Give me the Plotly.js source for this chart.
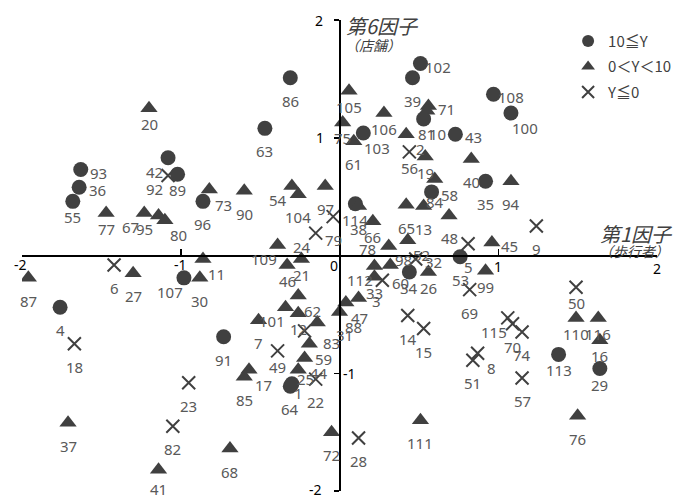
<!DOCTYPE html>
<html><head><meta charset="utf-8">
<script src="https://cdn.plot.ly/plotly-3.0.1.min.js"></script>
<style>html,body{margin:0;padding:0;background:#fff}</style>
</head><body><div id="chart" style="width:686px;height:497px"></div>
<script>
// ---- data: 10≦Y (circles) ----
const circleIds = [86,63,102,39,108,100,43,10,103,35,58,114,34,53,93,36,55,42,89,96,107,4,91,64,1,113,29];
const circleX = [-0.31,-0.47,0.51,0.46,0.97,1.08,0.73,0.53,0.15,0.92,0.58,0.10,0.44,0.76,-1.63,-1.64,-1.68,-1.08,-1.02,-0.86,-0.98,-1.76,-0.73,-0.31,-0.30,1.38,1.64];
const circleY = [1.51,1.08,1.63,1.51,1.37,1.21,1.03,1.16,1.04,0.63,0.54,0.44,-0.14,-0.01,0.73,0.58,0.46,0.83,0.69,0.46,-0.19,-0.44,-0.69,-1.11,-1.09,-0.84,-0.96];
const circleLabelPos = ['b','b','r','b','r','br','r','br','br','b','r','bs','bs','b','r','r','bs','bl','bs','b','bl','b','b','b','brs','bs','bs'];

// ---- data: 0<Y<10 (triangles) ----
const triIds = [20,77,67,95,80,73,90,54,104,97,38,66,105,75,61,106,2,71,81,19,84,65,13,48,40,94,45,99,78,52,98,112,33,26,109,21,46,87,27,11,30,37,41,68,72,111,76,110,116,16,7,101,62,12,31,88,47,3,59,44,25,17,85];
const triX = [-1.20,-1.47,-1.23,-1.14,-1.10,-0.82,-0.60,-0.30,-0.26,-0.09,0.12,0.21,0.06,0.02,0.09,0.28,0.42,0.56,0.55,0.54,0.60,0.42,0.53,0.69,0.83,1.08,0.96,0.92,0.31,0.43,0.32,0.22,0.22,0.56,-0.39,-0.24,-0.33,-1.96,-1.30,-0.86,-0.88,-1.71,-1.14,-0.69,-0.05,0.51,1.50,1.49,1.63,1.64,-0.51,-0.34,-0.26,-0.26,-0.14,0.00,0.04,0.12,-0.19,-0.22,-0.26,-0.57,-0.60];
const triY = [1.25,0.36,0.36,0.34,0.30,0.56,0.55,0.59,0.52,0.59,0.42,0.29,1.40,1.13,0.97,1.21,1.03,1.27,1.23,0.84,0.65,0.43,0.42,0.34,0.82,0.63,0.11,-0.13,0.08,0.13,-0.08,-0.09,-0.18,-0.14,0.09,-0.03,-0.08,-0.19,-0.15,-0.03,-0.19,-1.42,-1.82,-1.64,-1.50,-1.40,-1.36,-0.53,-0.53,-0.72,-0.55,-0.44,-0.34,-0.49,-0.57,-0.48,-0.40,-0.36,-0.75,-0.87,-0.97,-0.97,-1.03];
const triLabelPos = ['bs','bs','bl','bl','br','br','b','bl','b','b','b','bs','bs','bs','b','bs','br','r','b','bs','b','b','b','b','b','b','r','bs','l','br','tr','bl','bs','bs','bl','bs','bs','b','b','br','b','b','b2','b','b','b','b','bs','bs','bs','b','bl','br','bs','rr','br','br','r','br','br','brs','br','b'];

// ---- data: Y≦0 (crosses) ----
const crossIds = [92,6,18,23,82,49,83,22,28,24,79,56,32,60,5,9,69,50,14,15,115,70,74,8,51,57];
const crossX = [-1.08,-1.42,-1.67,-0.95,-1.05,-0.39,-0.22,-0.15,0.12,-0.15,-0.04,0.44,0.48,0.27,0.81,1.24,0.82,1.49,0.43,0.53,1.06,1.09,1.15,0.87,0.84,1.15];
const crossY = [0.68,-0.08,-0.75,-1.08,-1.45,-0.81,-0.64,-1.05,-1.55,0.19,0.33,0.88,-0.03,-0.21,0.10,0.25,-0.29,-0.27,-0.51,-0.62,-0.53,-0.58,-0.65,-0.83,-0.89,-1.04];
const crossLabelPos = ['bl','b','b','b','b','bs','rr','b','b','bl','b','bs','r','r','b','b','b','bs','b','b','bl','b','b','br','b','b'];

const seriesNames = ['10≦Y', '0＜Y＜10', 'Y≦0'];
const xTickVals = [-2, -1, 1, 2];
const yTickVals = [-2, -1, 1, 2];

// ---- styles ----
const MARK = '#404040';
const LABEL_COLOR = '#595959';
const FONT = 'Noto Sans, Noto Sans CJK JP, sans-serif';
const OFF = {b:[0,23], b2:[0,19], bs:[0,16], br:[14,15], bl:[-14,14], r:[18,3], l:[-21,3], tr:[13,-5], rr:[27,12], brs:[7,9]};

const traces = [
  {type:'scatter', mode:'markers', name:seriesNames[0], x:circleX, y:circleY, text:circleIds.map(String), hoverinfo:'text',
   marker:{symbol:'circle', size:15, color:MARK}, legendgroup:'a'},
  {type:'scatter', mode:'markers', name:seriesNames[1], x:triX, y:triY, text:triIds.map(String), hoverinfo:'text',
   marker:{symbol:'triangle-up', size:15, color:MARK}, legendgroup:'b'},
  {type:'scatter', mode:'markers', name:seriesNames[2], x:crossX, y:crossY, text:crossIds.map(String), hoverinfo:'text',
   marker:{symbol:'x-thin-open', size:13, color:MARK, line:{width:2, color:MARK}}, legendgroup:'c'}
];

const annotations = [];
function addLabels(ids, xs, ys, pos) {
  for (let i = 0; i < ids.length; i++) {
    const o = OFF[pos[i]] || OFF.b;
    annotations.push({x:xs[i], y:ys[i], xref:'x', yref:'y', text:String(ids[i]), showarrow:false,
      xanchor:'center', yanchor:'middle', xshift:o[0], yshift:-o[1],
      font:{family:FONT, size:15, color:LABEL_COLOR}});
  }
}
addLabels(circleIds, circleX, circleY, circleLabelPos);
addLabels(triIds, triX, triY, triLabelPos);
addLabels(crossIds, crossX, crossY, crossLabelPos);

// tick labels
const xTickShift = {'-2':[-2,9], '-1':[0,9], '1':[0,11], '2':[0,13]};
xTickVals.forEach(v => {
  const s = xTickShift[String(v)];
  annotations.push({x:v, y:0, xref:'x', yref:'y', text:String(v), showarrow:false, xanchor:'center', yanchor:'middle',
    xshift:s[0], yshift:-s[1], font:{family:FONT, size:14, color:'#000'}});
});
const yTickShift = {'-2':[-24,-2], '-1':[10,0], '1':[-20,0], '2':[-21,0]};
yTickVals.forEach(v => {
  const s = yTickShift[String(v)];
  annotations.push({x:0, y:v, xref:'x', yref:'y', text:String(v), showarrow:false, xanchor:'center', yanchor:'middle',
    xshift:s[0], yshift:-s[1], font:{family:FONT, size:14, color:'#000'}});
});
annotations.push({x:0, y:0, xref:'x', yref:'y', text:'0', showarrow:false, xanchor:'center', yanchor:'middle',
  xshift:-6, yshift:-10, font:{family:FONT, size:14, color:'#000'}});

// axis titles
const JP = 'Noto Sans CJK JP, sans-serif';
annotations.push({x:0.03, y:1.95, xref:'x', yref:'y', text:'第6因子', showarrow:false, xanchor:'left', yanchor:'middle',
  font:{family:JP, size:20, color:'#404040', style:'italic'}});
annotations.push({x:0.02, y:1.79, xref:'x', yref:'y', text:'（店舗）', showarrow:false, xanchor:'left', yanchor:'middle',
  font:{family:JP, size:14, color:'#404040', style:'italic'}});
annotations.push({x:1.63, y:0.19, xref:'x', yref:'y', text:'第1因子', showarrow:false, xanchor:'left', yanchor:'middle',
  font:{family:JP, size:20, color:'#404040', style:'italic'}});
annotations.push({x:1.62, y:0.04, xref:'x', yref:'y', text:'（歩行者）', showarrow:false, xanchor:'left', yanchor:'middle',
  font:{family:JP, size:14, color:'#404040', style:'italic'}});

const layout = {
  width:686, height:497,
  margin:{l:22, r:29, t:20, b:6, pad:0},
  paper_bgcolor:'#fff', plot_bgcolor:'#fff',
  xaxis:{range:[-2,2], showgrid:false, zeroline:false, showline:true, linecolor:'#000', linewidth:2,
    anchor:'free', position:0.5, ticks:'inside', ticklen:6, tickwidth:1.5, tickcolor:'#000',
    tickmode:'array', tickvals:xTickVals, showticklabels:false, fixedrange:true},
  yaxis:{range:[-2,2], showgrid:false, zeroline:false, showline:true, linecolor:'#000', linewidth:2,
    anchor:'free', position:0.5, ticks:'outside', ticklen:5, tickwidth:1.5, tickcolor:'#000',
    tickmode:'array', tickvals:yTickVals, showticklabels:false, fixedrange:true},
  showlegend:true,
  legend:{x:0.86, y:0.99, xanchor:'left', yanchor:'top', bgcolor:'rgba(0,0,0,0)', itemsizing:'constant',
    traceorder:'grouped', tracegroupgap:3, font:{family:JP, size:15, color:'#404040'}},
  annotations:annotations
};

Plotly.newPlot('chart', traces, layout, {displayModeBar:false, staticPlot:true});
</script></body></html>
